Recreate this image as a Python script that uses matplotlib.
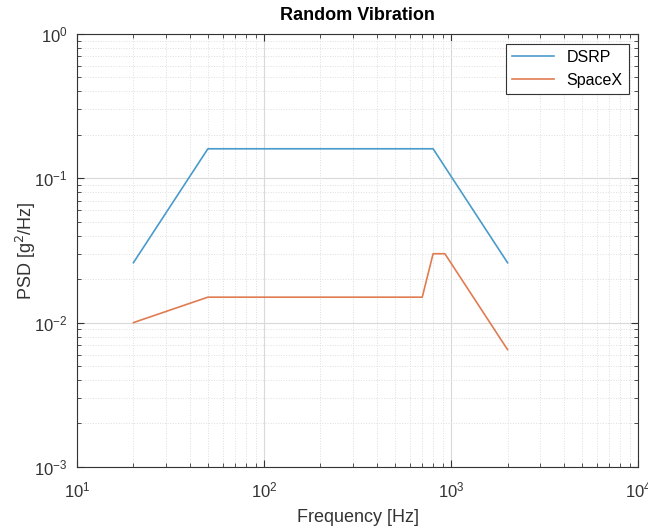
import matplotlib.pyplot as plt

plt.rcParams['font.family'] = ['Liberation Sans', 'DejaVu Sans']

# DSRP spectrum
dsrp_freq = [20, 50, 800, 2000]
dsrp_psd = [0.026, 0.16, 0.16, 0.026]

# SpaceX spectrum
spacex_freq = [20, 50, 700, 800, 925, 2000]
spacex_psd = [0.01, 0.015, 0.015, 0.03, 0.03, 0.0065]

fig = plt.figure(figsize=(6.48, 5.3), dpi=100)
ax = fig.add_axes([0.119, 0.119, 0.866, 0.817])

ax.loglog(dsrp_freq, dsrp_psd, color='#4a9bcb', lw=1.2, label='DSRP')
ax.loglog(spacex_freq, spacex_psd, color='#e07c52', lw=1.2, label='SpaceX')

ax.set_xlim(10, 1e4)
ax.set_ylim(1e-3, 1)

ax.grid(True, which='major', color='#d9d9d9', lw=0.8, ls='-')
ax.grid(True, which='minor', color='#dedede', lw=0.7, ls=':')
ax.tick_params(which='both', direction='in', top=True, right=True, labelsize=12, colors='#333333')
ax.tick_params(which='major', length=5)
ax.tick_params(which='minor', length=3)
ax.tick_params(axis='x', pad=10)
ax.tick_params(axis='y', pad=7)
for s in ax.spines.values():
    s.set_color('#333333')
    s.set_linewidth(0.8)

ax.set_xlabel('Frequency [Hz]', fontsize=13, color='#333333', labelpad=6)
ax.set_ylabel('PSD [g$^2$/Hz]', fontsize=13, color='#333333', labelpad=-3)
ax.set_title('Random Vibration', fontsize=13, fontweight='bold', pad=10)

leg = ax.legend(loc='upper right', fontsize=11.5, fancybox=False, framealpha=1,
                edgecolor='#333333', handlelength=2.6, borderaxespad=0.6)
leg.get_frame().set_linewidth(0.8)

plt.savefig('out.png', dpi=100)
